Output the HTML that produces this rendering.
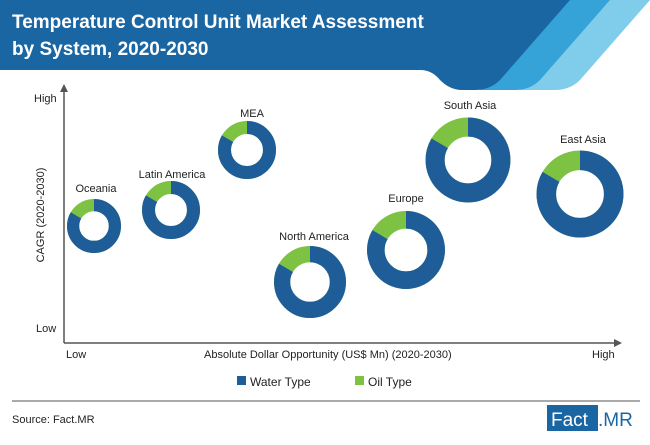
<!DOCTYPE html>
<html><head><meta charset="utf-8"><style>
body{margin:0;width:650px;height:440px;overflow:hidden;background:#fff;font-family:"Liberation Sans",sans-serif}
</style></head><body>
<svg width="650" height="440" viewBox="0 0 650 440" xmlns="http://www.w3.org/2000/svg" font-family="Liberation Sans, sans-serif">
<!-- header -->
<path d="M560,0 L650,0 L580,80 Q570,90 555,90 L520,90 Z" fill="#7fcdea"/>
<path d="M520,0 L610,0 L540,80 Q530,90 515,90 L480,90 Z" fill="#36a3d8"/>
<path d="M0,0 L570,0 L500,80 Q490,90 475,90 L462,90 Q450,90 440,80 Q432,70 420,70 L0,70 Z" fill="#1a66a3"/>
<text x="12" y="28" font-size="19" font-weight="bold" fill="#fff">Temperature Control Unit Market Assessment</text>
<text x="12" y="55" font-size="19" font-weight="bold" fill="#fff">by System, 2020-2030</text>
<!-- axes -->
<g stroke="#555" stroke-width="1.5" fill="none">
<line x1="64" y1="343" x2="64" y2="90"/>
<line x1="64" y1="343" x2="616" y2="343"/>
</g>
<path d="M60,92 L64,84 L68,92 Z" fill="#555"/>
<path d="M614,339 L622,343 L614,347 Z" fill="#555"/>
<g font-size="11" fill="#222">
<text x="34" y="102">High</text>
<text x="36" y="332">Low</text>
<text x="66" y="358">Low</text>
<text x="592" y="358">High</text>
<text x="204" y="358">Absolute Dollar Opportunity (US$ Mn) (2020-2030)</text>
<text transform="translate(44,215) rotate(-90)" text-anchor="middle">CAGR (2020-2030)</text>
</g>
<!-- donuts -->
<g fill="none" font-size="11">
<g transform="translate(94,226)"><circle r="20.9" stroke="#7dc242" stroke-width="12.2"/><circle r="20.9" stroke="#1f5d99" stroke-width="12.2" stroke-dasharray="109.5 200" transform="rotate(-90)"/></g>
<text x="96" y="192" text-anchor="middle" fill="#222">Oceania</text>
<g transform="translate(171,210)"><circle r="22.5" stroke="#7dc242" stroke-width="13"/><circle r="22.5" stroke="#1f5d99" stroke-width="13" stroke-dasharray="117.7 200" transform="rotate(-90)"/></g>
<text x="172" y="178" text-anchor="middle" fill="#222">Latin America</text>
<g transform="translate(247,150)"><circle r="22.5" stroke="#7dc242" stroke-width="13"/><circle r="22.5" stroke="#1f5d99" stroke-width="13" stroke-dasharray="117.7 200" transform="rotate(-90)"/></g>
<text x="252" y="117" text-anchor="middle" fill="#222">MEA</text>
<g transform="translate(310,282)"><circle r="27.9" stroke="#7dc242" stroke-width="16.2"/><circle r="27.9" stroke="#1f5d99" stroke-width="16.2" stroke-dasharray="146.1 300" transform="rotate(-90)"/></g>
<text x="314" y="240" text-anchor="middle" fill="#222">North America</text>
<g transform="translate(406,250)"><circle r="30.2" stroke="#7dc242" stroke-width="17.6"/><circle r="30.2" stroke="#1f5d99" stroke-width="17.6" stroke-dasharray="158.2 300" transform="rotate(-90)"/></g>
<text x="406" y="202" text-anchor="middle" fill="#222">Europe</text>
<g transform="translate(468,160)"><circle r="32.9" stroke="#7dc242" stroke-width="19.1"/><circle r="32.9" stroke="#1f5d99" stroke-width="19.1" stroke-dasharray="172.4 300" transform="rotate(-90)"/></g>
<text x="470" y="109" text-anchor="middle" fill="#222">South Asia</text>
<g transform="translate(580,194)"><circle r="33.7" stroke="#7dc242" stroke-width="19.6"/><circle r="33.7" stroke="#1f5d99" stroke-width="19.6" stroke-dasharray="176.5 300" transform="rotate(-90)"/></g>
<text x="583" y="143" text-anchor="middle" fill="#222">East Asia</text>
</g>
<!-- legend -->
<rect x="237" y="376" width="9" height="9" fill="#1f5d99"/>
<text x="250" y="386" font-size="12" fill="#222">Water Type</text>
<rect x="355" y="376" width="9" height="9" fill="#7dc242"/>
<text x="368" y="386" font-size="12" fill="#222">Oil Type</text>
<line x1="12" y1="401" x2="640" y2="401" stroke="#555" stroke-width="1"/>
<text x="12" y="423" font-size="11" fill="#222">Source: Fact.MR</text>
<rect x="547" y="405" width="51" height="26" fill="#1a66a3"/>
<text x="551" y="426" font-size="19" fill="#fff">Fact</text>
<text x="598" y="426" font-size="19" fill="#1a66a3">.MR</text>
</svg>
</body></html>
